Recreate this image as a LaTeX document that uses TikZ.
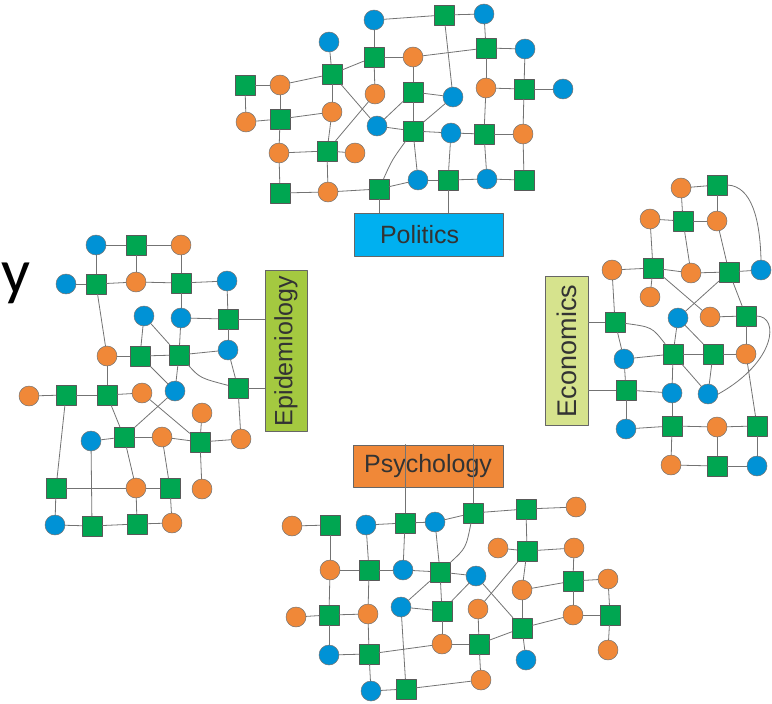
\documentclass[tikz,border=0pt]{standalone}
\usepackage{fontspec}
\newfontfamily\labfont{Liberation Sans}
\newfontfamily\bigfont{Carlito}
\definecolor{nblue}{RGB}{0,146,214}
\definecolor{ngreen}{RGB}{0,166,81}
\definecolor{norange}{RGB}{240,136,56}
\definecolor{polfill}{RGB}{0,176,240}
\definecolor{epifill}{RGB}{164,201,64}
\definecolor{ecofill}{RGB}{214,227,141}
\definecolor{psyfill}{RGB}{240,136,56}
\definecolor{lkgray}{RGB}{115,115,115}
\begin{document}
\begin{tikzpicture}[line cap=round,line join=round,x=1pt,y=-1pt,
  bnode/.style={circle,draw=black!55,line width=0.5pt,fill=nblue,minimum size=20pt,inner sep=0pt},
  onode/.style={circle,draw=black!55,line width=0.5pt,fill=norange,minimum size=20pt,inner sep=0pt},
  gnode/.style={rectangle,draw=black!65,line width=0.5pt,fill=ngreen,minimum size=20pt,inner sep=0pt},
  lk/.style={draw=lkgray,line width=0.8pt},
  topic/.style={rectangle,draw=black!60,line width=0.8pt,text=black!80,inner sep=0pt,font=\labfont\fontsize{25}{30}\selectfont}]
\useasboundingbox (0,0) rectangle (772,704);
\node[anchor=base west,inner sep=0pt,font=\bigfont\fontsize{64}{64}\selectfont] (ytxt) at (1,293) {y};
\node[topic,fill=polfill,minimum width=149pt,minimum height=43pt,text width=97pt,align=left] (pol) at (428.5,234.5) {Politics};
\node[topic,fill=epifill,minimum width=161pt,minimum height=42pt,rotate=90] (epi) at (286,351) {Epidemiology};
\node[topic,fill=ecofill,minimum width=149pt,minimum height=43pt,rotate=90,font=\labfont\fontsize{27}{30}\selectfont] (eco) at (566.5,351) {Economics};
\node[topic,fill=psyfill,minimum width=150pt,minimum height=42pt] (psy) at (428,466) {Psychology};
\foreach \n/\x/\y in {pb1/374/20,pb2/484/14,pb3/329/42,pb4/525/49,pb5/453/97,pb6/563/89,pb7/377/126,pb8/451/133,pb9/418/180,pb10/487/179,
  eb1/96/245,eb2/66/284,eb3/227/281,eb4/144/316,eb5/181/318,eb6/228/350,eb7/175/391,eb8/91/441,eb9/55/525,
  cb1/761/270,cb2/678/318,cb3/624/359,cb4/672/393,cb5/708/394,cb6/626/429,cb7/757/466,
  sb1/366/525,sb2/435/522,sb3/403/570,sb4/476/576,sb5/401/607,sb6/329/655,sb7/526/660,sb8/371/691}
  \node[bnode] (\n) at (\x,\y) {};
\foreach \n/\x/\y in {po1/413/57,po2/280/85,po3/375/94,po4/486/88,po5/246/122,po6/332/112,po7/523/134,po8/279/153,po9/355/153,po10/328/192,
  eo1/181/245,eo2/136/282,eo3/107/356,eo4/29/396,eo5/142/393,eo6/202/413,eo7/162/437,eo8/241/439,eo9/136/488,eo10/202/489,eo11/172/523,
  co1/681/188,co2/650/219,co3/717/221,co4/612/270,co5/691/273,co6/650/297,co7/710/317,co8/746/354,co9/717/427,co10/671/465,
  so1/292/526,so2/576/507,so3/498/548,so4/574/548,so5/330/570,so6/522/590,so7/608/579,so8/296/617,so9/368/614,so10/478/609,so11/573/615,so12/442/644,so13/608/650,so14/481/680}
  \node[onode] (\n) at (\x,\y) {};
\foreach \n/\x/\y in {pg1/444/15,pg2/374/57,pg3/486/48,pg4/245/85,pg5/332/74,pg6/413/92,pg7/524/89,pg8/280/119,pg9/413/131,pg10/484/134,pg11/327/151,pg12/280/193,pg13/379/189,pg14/448/180,pg15/524/180,
  eg1/136/245,eg2/96/284,eg3/181/283,eg4/228/319,eg5/140/356,eg6/179/355,eg7/66/395,eg8/107/395,eg9/238/388,eg10/124/437,eg11/200/442,eg12/56/488,eg13/170/488,eg14/92/526,eg15/137/524,
  cg1/717/185,cg2/683/221,cg3/653/268,cg4/729/272,cg5/746/316,cg6/615/322,cg7/673/354,cg8/713/354,cg9/626/390,cg10/672/426,cg11/757/426,cg12/717/466,
  sg1/330/525,sg2/405/523,sg3/473/513,sg4/526/509,sg5/527/551,sg6/369/570,sg7/440/572,sg8/573/581,sg9/329/615,sg10/442/611,sg11/522/628,sg12/610/615,sg13/369/654,sg14/479/644,sg15/406/689}
  \node[gnode] (\n) at (\x,\y) {};
\foreach \a/\b in {pb1/pg1,pg1/pb2,pg1/pb5,pb2/pg3,pb1/pg2,pb3/pg5,pg2/po1,po1/pg3,pg3/pb4,pg3/po4,pb4/pg7,pg2/pg5,pg2/po3,po1/pg6,
  pg4/po2,po2/pg5,pg4/po5,po2/pg8,pg5/po6,pg5/pb7,po3/pg11,pg6/pb5,pg6/pb7,pg6/pg9,pb5/pg9,po4/pg7,pg7/pb6,po4/pg10,pg7/po7,
  po5/pg8,pg8/po6,pg8/po8,po6/pg11,pb7/pg9,pg9/pb8,pb8/pg10,pg10/po7,po8/pg11,pg11/po9,po8/pg12,pg11/po10,pg9/pb9,pb8/pg14,
  pg10/pb10,po7/pg15,pg12/po10,po10/pg13,pg13/pb9,pb9/pg14,pg14/pb10,pb10/pg15}
  \draw[lk] (\a) -- (\b);
\draw[lk] (pg9) .. controls (392,160) .. (pg13);
\foreach \a in {pg13,pg14}
  \draw[lk] (\a) -- (\a |- pol.north);
\foreach \a/\b in {eb1/eg1,eg1/eo1,eb1/eg2,eg1/eo2,eo1/eg3,eb2/eg2,eg2/eo2,eo2/eg3,eg3/eb3,eg3/eb5,eb3/eg4,eb5/eg4,eg2/eo3,
  eb4/eg5,eb4/eg6,eb5/eg6,eg4/eb6,eo3/eg5,eg5/eg6,eg6/eb6,eb6/eg9,eg5/eb7,eg6/eb7,eo3/eg8,eo4/eg7,eg7/eg8,eg8/eo5,eg8/eg10,
  eo5/eg11,eb7/eg10,eo6/eg11,eg9/eo8,eb8/eg10,eg10/eo7,eo7/eg11,eg11/eo8,eg7/eg12,eb8/eg14,eg10/eo9,eo7/eg13,eg11/eo10,
  eg12/eo9,eo9/eg13,eg12/eb9,eo9/eg15,eg13/eo11,eb9/eg14,eg14/eg15,eg15/eo11}
  \draw[lk] (\a) -- (\b);
\draw[lk] (eg6) .. controls (200,378) .. (eg9);
\foreach \a in {eg4,eg9}
  \draw[lk] (\a) -- (\a -| epi.north);
\foreach \a/\b in {co1/cg1,co1/cg2,cg1/co3,co2/cg2,cg2/co3,co2/cg3,cg2/co5,co3/cg4,co4/cg3,cg3/co5,co5/cg4,cg4/cb1,cg3/co6,
  cg3/co7,cg4/cb2,cg4/cg5,co7/cg5,cg5/co8,co4/cg6,cg6/cb3,cb2/cg7,cb2/cg8,cb3/cg7,cg7/cg8,cg8/co8,cg7/cb4,cg7/cb5,cg8/cb5,
  co8/cg11,cb3/cg9,cg9/cb4,cg9/cb6,cb4/cg10,cb6/cg10,cg10/co9,co9/cg11,cg10/co10,co9/cg12,cg11/cb7,co10/cg12,cg12/cb7}
  \draw[lk] (\a) -- (\b);
\draw[lk] (cg1.east) .. controls (752,186) and (760,220) .. (cb1.north);
\draw[lk] (cg5.east) .. controls (780,316) and (776,362) .. (cb5.east);
\draw[lk] (cg6) .. controls (652,327) .. (cg7);
\foreach \a in {cg6,cg9}
  \draw[lk] (\a) -- (\a -| eco.south);
\foreach \a/\b in {so1/sg1,sb1/sg2,sg2/sb2,sb2/sg3,sg3/sg4,sg4/so2,sg1/so5,sb1/sg6,sg2/sb3,sb2/sg7,sg4/sg5,so3/sg5,sg5/so4,
  sg5/so6,sg5/so10,so4/sg8,so5/sg6,sg6/sb3,sb3/sg7,sg7/sb4,so5/sg9,sg6/so9,sg7/sb5,sg7/sg10,sb4/sg10,sb4/sg11,so6/sg8,sg8/so7,
  sg8/so11,so7/sg12,so6/sg11,so8/sg9,sg9/so9,sb5/sg10,so10/sg14,sg11/so11,so11/sg12,sg12/so13,sg9/sb6,so9/sg13,sg10/so12,
  sb5/sg15,sg11/sb7,sg14/sg11,sb6/sg13,sg13/so12,so12/sg14,sg13/sb8,sg14/so14,sb8/sg15,sg15/so14}
  \draw[lk] (\a) -- (\b);
\draw[lk] (sg3) .. controls (466,548) .. (sg7);
\foreach \a in {sg2,sg3}
  \draw[lk] (\a) -- (\a |- psy.north);
\end{tikzpicture}
\end{document}
